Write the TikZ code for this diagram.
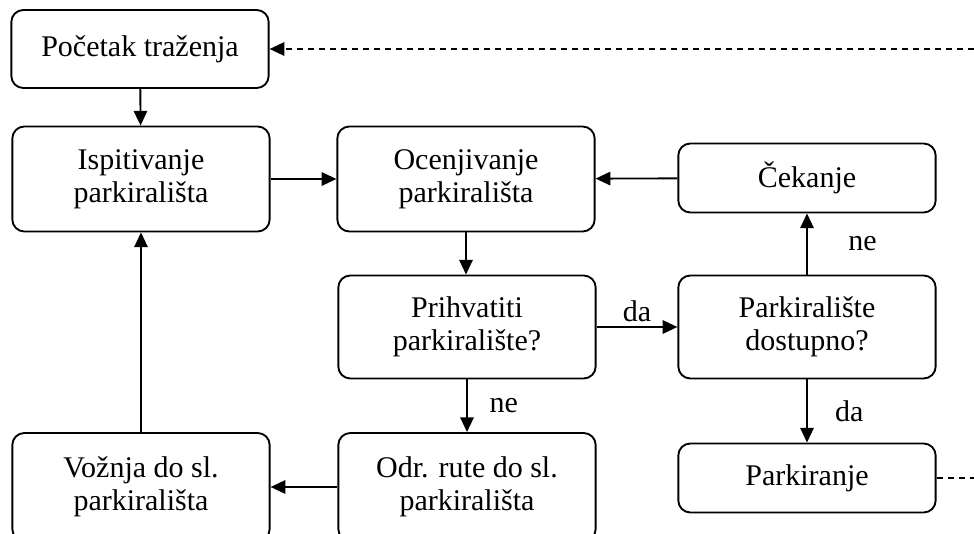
\documentclass[tikz,border=0pt]{standalone}
\usepackage{fontspec}
\setmainfont{Liberation Serif}
\usetikzlibrary{arrows.meta}
\begin{document}
\begin{tikzpicture}[x=0.75pt, y=-0.75pt,
    box/.style={draw, rounded corners=9pt, line width=1.4pt, align=center, inner sep=0pt,
      minimum width=193pt, font=\fontsize{22.5}{24.75}\selectfont},
    lbl/.style={font=\fontsize{22.5}{24.75}\selectfont},
    arr/.style={line width=1.4pt, -{Triangle[length=11pt, width=10pt]}},
    dsh/.style={line width=1.4pt, dash pattern=on 4.5pt off 3.75pt}]
    \useasboundingbox (0,0) rectangle (974,534);
    \node[box, minimum height=58.5pt] (start) at (140,49) {Početak traženja};
    \node[box, minimum height=78.75pt] (ispit) at (141,179) {Ispitivanje\\parkirališta};
    \node[box, minimum height=78.75pt] (ocen) at (466,179) {Ocenjivanje\\parkirališta};
    \node[box, minimum height=51.75pt] (cek) at (807,178) {Čekanje};
    \node[box, minimum height=77.25pt] (prihv) at (467,327) {Prihvatiti\\parkiralište?};
    \node[box, minimum height=77.25pt] (dost) at (807,327) {Parkiralište\\dostupno?};
    \node[box, minimum height=81pt] (odr) at (467,487) {Odr. rute do sl.\\parkirališta};
    \node[box, minimum height=81pt] (vozn) at (141,487) {Vožnja do sl.\\parkirališta};
    \node[box, minimum height=51.75pt] (park) at (807,478) {Parkiranje};
    \coordinate (povratak) at (974,49);
    \coordinate (kraj) at (974,478);
    \path (start) edge[arr] (ispit);
    \path (ispit) edge[arr] (ocen);
    \path (ocen.south) edge[arr] (ocen.south |- prihv.north);
    \path (cek) edge[arr] (ocen);
    \path (prihv) edge[arr] node[lbl, above] {da} (dost);
    \path (dost) edge[arr] node[lbl, right, xshift=27pt] {ne} (cek);
    \path (dost) edge[arr] node[lbl, right, xshift=17pt] {da} (park);
    \path (prihv) edge[arr] node[lbl, right, xshift=13pt] {ne} (odr);
    \path (odr) edge[arr] (vozn);
    \path (vozn) edge[arr] (ispit);
    \draw[dsh] (park) -- (kraj);
    \draw[dsh, -{Triangle[length=11pt, width=10pt]}] (povratak) -- (start);
\end{tikzpicture}
\end{document}
